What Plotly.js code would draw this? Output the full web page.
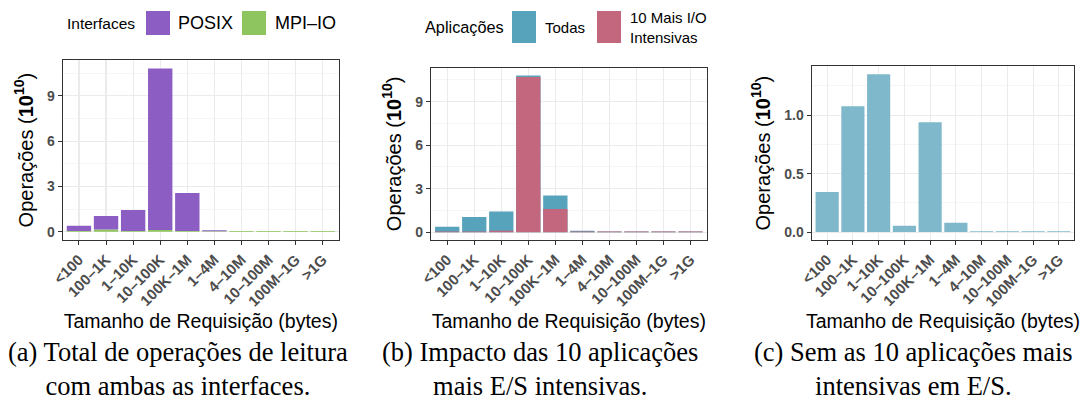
<!DOCTYPE html>
<html>
<head>
<meta charset="utf-8">
<script src="https://cdn.plot.ly/plotly-3.0.1.min.js"></script>
<style>
html,body{margin:0;padding:0;background:#fff;}
#chart{width:1087px;height:401px;}
</style>
</head>
<body>
<div id="chart"></div>
<script>
// ---- data ----
const categories = ['<100','100–1K','1–10K','10–100K','100K–1M','1–4M','4–10M','10–100M','100M–1G','>1G'];
const tickLabels = ['&lt;100','100–1K','1–10K','10–100K','100K–1M','1–4M','4–10M','10–100M','100M–1G','&gt;1G'];
// (a) read operations by interface (10^10), stacked
const posixOps = [0.35, 0.90, 1.40, 10.68, 2.51, 0.06, 0.00, 0.00, 0.00, 0.00];
const mpiioOps = [0.05, 0.15, 0.05, 0.12, 0.06, 0.04, 0.06, 0.06, 0.06, 0.06];
// (b) all applications vs top-10 I/O intensive (overlaid)
const allAppsOps = [0.38, 1.05, 1.42, 10.80, 2.52, 0.10, 0.05, 0.05, 0.05, 0.05];
const top10Ops   = [0.05, 0.04, 0.10, 10.70, 1.60, 0.04, 0.05, 0.05, 0.05, 0.05];
// (c) without the top-10 applications
const withoutTop10Ops = [0.343, 1.077, 1.350, 0.054, 0.940, 0.079, 0.008, 0.008, 0.008, 0.008];

const C = {posix:'#8C5EC3', mpi:'#8EC55E', todas:'#57A3BB', top:'#C3677F', sem:'#7FB8CA'};
const FONT = 'Liberation Sans, Arial, sans-serif';
const SERIF = 'Liberation Serif, Times New Roman, serif';
const W = 1087, H = 401;
const px = v => v / W, py = v => 1 - v / H;

const traces = [
  {type:'bar', name:'MPI–IO', x:categories, y:mpiioOps, marker:{color:C.mpi}, width:0.9,
   xaxis:'x', yaxis:'y', legend:'legend', legendrank:2, hoverinfo:'skip'},
  {type:'bar', name:'POSIX', x:categories, y:posixOps, base:mpiioOps, marker:{color:C.posix}, width:0.9,
   xaxis:'x', yaxis:'y', legend:'legend', legendrank:1, hoverinfo:'skip'},
  {type:'bar', name:'Todas', x:categories, y:allAppsOps, marker:{color:C.todas}, width:0.9,
   xaxis:'x2', yaxis:'y2', legend:'legend2', legendrank:1, hoverinfo:'skip'},
  {type:'bar', name:'10 Mais I/O<br>Intensivas', x:categories, y:top10Ops, marker:{color:C.top}, width:0.9,
   xaxis:'x2', yaxis:'y2', legend:'legend2', legendrank:2, hoverinfo:'skip'},
  {type:'bar', name:'Sem', x:categories, y:withoutTop10Ops, marker:{color:C.sem}, width:0.9,
   xaxis:'x3', yaxis:'y3', showlegend:false, hoverinfo:'skip'}
];

function xax(d0, d1, anchor){
  return {domain:[px(d0), px(d1)], anchor:anchor, type:'category', range:[-0.6, 9.6],
    tickmode:'array', tickvals:categories, ticktext:tickLabels, tickangle:-45,
    tickfont:{family:FONT, size:15, color:'#4D4D4D', weight:'bold'},
    ticks:'outside', ticklen:4, tickcolor:'#333', tickwidth:1,
    showgrid:true, gridcolor:'#EBEBEB', gridwidth:1.1,
    showline:true, linecolor:'#333', linewidth:1.1, mirror:true, zeroline:false,
    automargin:false,
    title:{text:'Tamanho de Requisição (bytes)', font:{family:FONT, size:19.5, color:'#000'}, standoff:0}};
}
function yax(t0, b0, anchor, range, dtick, fmt){
  return {domain:[py(b0), py(t0)], anchor:anchor, range:range, tick0:0, dtick:dtick, tickformat:fmt,
    tickfont:{family:FONT, size:14, color:'#4D4D4D', weight:'bold'},
    ticks:'outside', ticklen:4, tickcolor:'#333', tickwidth:1,
    showgrid:true, gridcolor:'#EBEBEB', gridwidth:1.1,
    minor:{dtick:dtick/2, showgrid:true, gridcolor:'#F4F4F4', gridwidth:0.8, ticks:''},
    showline:true, linecolor:'#333', linewidth:1.1, mirror:true, zeroline:false,
    automargin:false,
    title:{text:'Operações (<b>10<sup>10</sup></b>)', font:{family:FONT, size:20, color:'#000'}, standoff:8}};
}

const layout = {
  width:W, height:H, margin:{l:0,r:0,t:0,b:0,autoexpand:false},
  paper_bgcolor:'#fff', plot_bgcolor:'#fff',
  barmode:'overlay', bargap:0.1,
  font:{family:FONT, color:'#000'},
  xaxis:xax(62.7, 339, 'y'),
  yaxis:yax(60.3, 240, 'x', [-0.54, 11.34], 3, 'd'),
  xaxis2:xax(431, 706.7, 'y2'),
  yaxis2:yax(67.7, 240, 'x2', [-0.54, 11.34], 3, 'd'),
  xaxis3:xax(811.7, 1074.3, 'y3'),
  yaxis3:yax(66.3, 240, 'x3', [-0.0675, 1.4175], 0.5, '.1f'),
  legend:{orientation:'h', x:px(65), y:py(7), xanchor:'left', yanchor:'top',
    title:{text:'Interfaces', side:'left', font:{family:FONT, size:15.5, color:'#000'}},
    font:{family:FONT, size:18, color:'#000'}, itemwidth:30, bgcolor:'rgba(0,0,0,0)',
    traceorder:'normal', itemclick:false},
  legend2:{orientation:'h', x:px(423), y:py(4), xanchor:'left', yanchor:'top',
    title:{text:'Aplicações', side:'left', font:{family:FONT, size:16.3, color:'#000'}},
    font:{family:FONT, size:15, color:'#000'}, itemwidth:30, bgcolor:'rgba(0,0,0,0)',
    traceorder:'normal', itemclick:false, valign:'middle'},
  annotations:[
    {xref:'paper', yref:'paper', x:px(178), y:py(369), xanchor:'center', yanchor:'middle', showarrow:false,
     text:'(a) Total de operações de leitura<br>com ambas as interfaces.', align:'center',
     font:{family:SERIF, size:26.5, color:'#000'}},
    {xref:'paper', yref:'paper', x:px(540), y:py(369), xanchor:'center', yanchor:'middle', showarrow:false,
     text:'(b) Impacto das 10 aplicações<br>mais E/S intensivas.', align:'center',
     font:{family:SERIF, size:26.5, color:'#000'}},
    {xref:'paper', yref:'paper', x:px(913), y:py(369), xanchor:'center', yanchor:'middle', showarrow:false,
     text:'(c) Sem as 10 aplicações mais<br>intensivas em E/S.', align:'center',
     font:{family:SERIF, size:26.5, color:'#000'}}
  ]
};

// legend fine placement (swatch left x, centre y, scale x/y; text left x, centre y)
const legendPlacement = {
  'POSIX':   {sw:[146, 23, 2, 2],    tx:[178, 23.3]},
  'MPI':     {sw:[242, 23, 2, 2],    tx:[275, 23.3]},
  'Todas':   {sw:[512, 27, 2, 2.67], tx:[545, 27.5]},
  '10 Mais': {sw:[597, 27, 2, 2.67], tx:[630, 27.7]}
};
const titlePlacement = {'Interfaces':[67, 23.8], 'Aplicações':[425, 27.5]};

function moveTo(el, left, cy){
  const r = el.getBoundingClientRect();
  if (!r.width && !r.height) return;
  const dx = left - r.left, dy = cy - (r.top + r.height / 2);
  const t = el.getAttribute('transform') || '';
  el.setAttribute('transform', 'translate(' + dx + ',' + dy + ') ' + t);
}

function adjustLegends(){
  const gd = document.getElementById('chart');
  gd.querySelectorAll('.scrollbox').forEach(function(s){ s.removeAttribute('clip-path'); });
  gd.querySelectorAll('.legendtext, .legend2text').forEach(function(txt){
    if (txt.getAttribute('data-done')) return;
    const key = Object.keys(legendPlacement).find(function(k){ return txt.textContent.indexOf(k) === 0; });
    if (!key) return;
    const p = legendPlacement[key];
    const item = txt.parentNode;
    const sw = item.querySelector('.legendpoints path');
    if (sw) {
      const t = sw.getAttribute('transform') || '';
      sw.setAttribute('transform', t + ' scale(' + p.sw[2] + ',' + p.sw[3] + ')');
      moveTo(sw, p.sw[0], p.sw[1]);
    }
    moveTo(txt, p.tx[0], p.tx[1]);
    txt.setAttribute('data-done', '1');
  });
  gd.querySelectorAll('.legendtitletext, .legend2titletext').forEach(function(t){
    const k = t.textContent.trim();
    if (titlePlacement[k] && !t.getAttribute('data-done')) {
      moveTo(t, titlePlacement[k][0], titlePlacement[k][1]);
      t.setAttribute('data-done', '1');
    }
  });
}

Plotly.newPlot('chart', traces, layout, {displayModeBar:false, staticPlot:true}).then(function(gd){
  adjustLegends();
  gd.on('plotly_afterplot', adjustLegends);
  requestAnimationFrame(adjustLegends);
  setTimeout(adjustLegends, 50);
});
</script>
</body>
</html>
